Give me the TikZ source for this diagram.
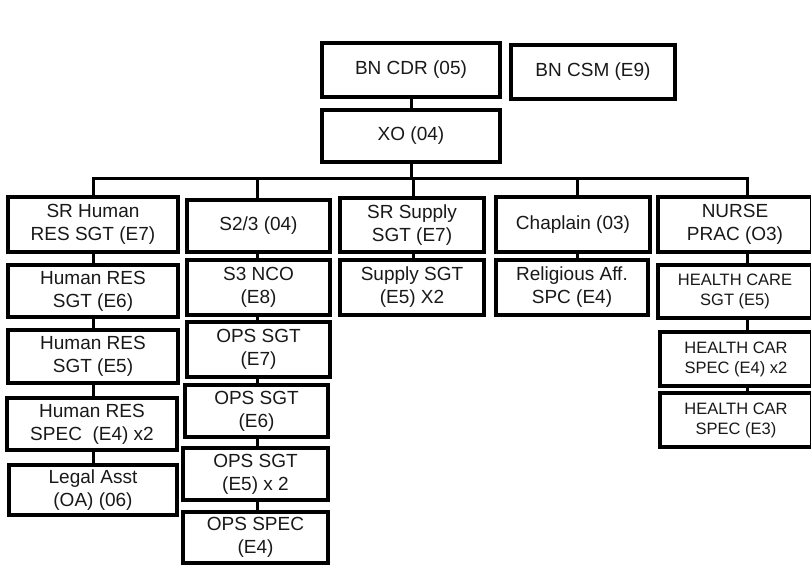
\documentclass[tikz,border=0pt]{standalone}
\usepackage{fontspec}
\setmainfont{Liberation Sans}
\begin{document}
\begin{tikzpicture}[x=1pt,y=-1pt,
  box/.style={draw=black, line width=3.2pt, fill=white, rectangle, inner sep=0pt, align=center,
    font=\fontsize{19}{23}\selectfont, text=black!90},
  sbox/.style={box, font=\fontsize{16.5}{20}\selectfont},
  conn/.style={draw=black, line width=3pt, line join=miter}]
\clip (0,0) rectangle (811,568);
\fill[white] (0,0) rectangle (811,568);
% column connector x positions
\coordinate (c1) at (93,178);
\coordinate (c2) at (257,178);
\coordinate (c3) at (413,178);
\coordinate (c4) at (577,178);
\coordinate (c5) at (747,178);
% connectors (drawn first, boxes on top)
\path[conn] (93,224) -- (c1) -- (c5) -- (747,224);
\path[conn] (411,136) -- (411,178);
\path[conn] (411,70) -- (411,136);
\path[conn] (c2) -- (257,226);
\path[conn] (c3) -- (413,225);
\path[conn] (c4) -- (577,225);
\path[conn] (93,224) -- (93,490);
\path[conn] (257,226) -- (257,537);
\path[conn] (413,225) -- (413,287);
\path[conn] (577,225) -- (577,287);
\path[conn] (747,224) -- (747,420);
% top
\node[box, minimum width=178pt, minimum height=54pt] (cdr) at (411,70) {BN CDR (05)};
\node[box, minimum width=164pt, minimum height=54pt] (csm) at (593,72) {BN CSM (E9)};
\node[box, minimum width=178pt, minimum height=52pt] (xo) at (411,136) {XO (04)};
% column 1
\node[box, minimum width=170pt, minimum height=55pt] (srh) at (93,224.5) {SR Human\\RES SGT (E7)};
\node[box, minimum width=170pt, minimum height=52pt] (hr6) at (93,291) {Human RES\\SGT (E6)};
\node[box, minimum width=170pt, minimum height=53pt] (hr5) at (93,356.5) {Human RES\\SGT (E5)};
\node[box, minimum width=170pt, minimum height=52pt] (hr4) at (92,424) {Human RES\\SPEC~ (E4) x2};
\node[box, minimum width=168pt, minimum height=50pt] (legal) at (93,490) {Legal Asst\\(OA) (06)};
% column 2
\node[box, minimum width=143pt, minimum height=52pt] (s23) at (258.5,226) {S2/3 (04)};
\node[box, minimum width=143pt, minimum height=55pt] (s3nco) at (258.5,287.5) {S3 NCO\\(E8)};
\node[box, minimum width=143pt, minimum height=55pt] (ops7) at (258.5,349.5) {OPS SGT\\(E7)};
\node[box, minimum width=143pt, minimum height=52pt] (ops6) at (256.5,411) {OPS SGT\\(E6)};
\node[box, minimum width=145pt, minimum height=52pt] (ops5) at (255.5,474) {OPS SGT\\(E5) x 2};
\node[box, minimum width=145pt, minimum height=51pt] (opsspec) at (255.5,537.5) {OPS SPEC\\(E4)};
% column 3
\node[box, minimum width=144pt, minimum height=54pt] (srsup) at (412,225) {SR Supply\\SGT (E7)};
\node[box, minimum width=144pt, minimum height=55pt] (sup) at (412,287.5) {Supply SGT\\(E5) X2};
% column 4
\node[box, minimum width=154pt, minimum height=55pt] (chap) at (573,224.5) {Chaplain (03)};
\node[box, minimum width=152pt, minimum height=55pt] (rel) at (572,287.5) {Religious Aff.\\SPC (E4)};
% column 5
\node[box, minimum width=154pt, minimum height=55pt] (nurse) at (735,224.5) {NURSE\\PRAC (O3)};
\node[sbox, minimum width=154pt, minimum height=53pt] (hc5) at (735,291.5) {HEALTH CARE\\SGT (E5)};
\node[sbox, minimum width=152pt, minimum height=54pt] (hc4) at (736,359) {HEALTH CAR\\SPEC (E4) x2};
\node[sbox, minimum width=152pt, minimum height=54pt] (hc3) at (736,420) {HEALTH CAR\\SPEC (E3)};
\end{tikzpicture}
\end{document}
